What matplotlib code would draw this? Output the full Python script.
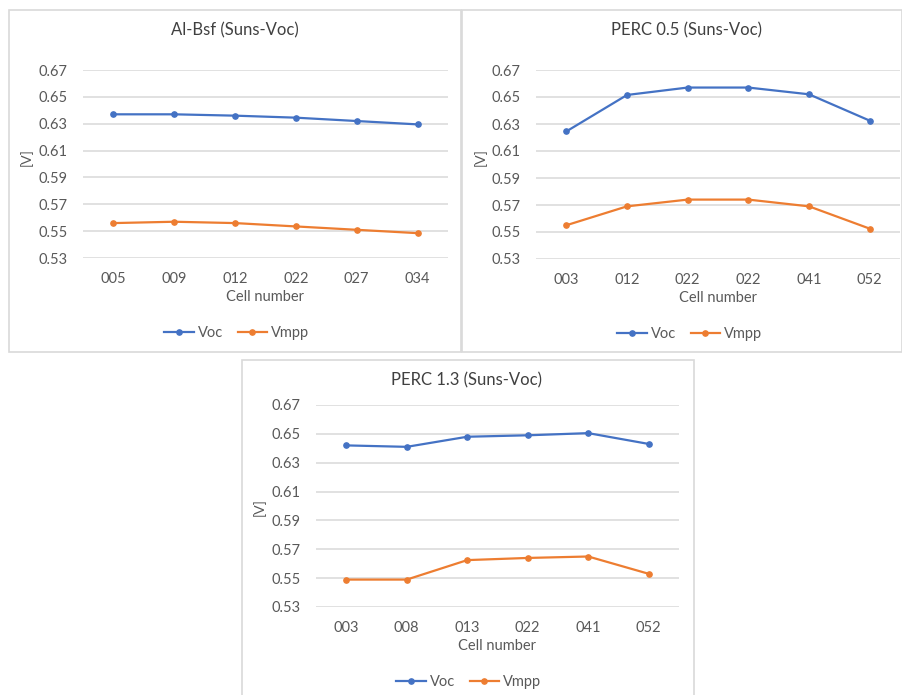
import numpy as np
import matplotlib
matplotlib.use("Agg")
import matplotlib.pyplot as plt
from matplotlib.patches import Rectangle
from matplotlib.lines import Line2D

plt.rcParams['font.family'] = ['Lato', 'DejaVu Sans']

# data
albsf_cells = ['005', '009', '012', '022', '027', '034']
albsf_voc = [0.637, 0.637, 0.636, 0.6345, 0.632, 0.6295]
albsf_vmpp = [0.556, 0.557, 0.556, 0.5535, 0.551, 0.5485]

perc05_cells = ['003', '012', '022', '022', '041', '052']
perc05_voc = [0.6245, 0.6515, 0.657, 0.657, 0.652, 0.6325]
perc05_vmpp = [0.555, 0.569, 0.574, 0.574, 0.569, 0.5525]

perc13_cells = ['003', '008', '013', '022', '041', '052']
perc13_voc = [0.642, 0.641, 0.648, 0.649, 0.6505, 0.643]
perc13_vmpp = [0.549, 0.549, 0.5625, 0.564, 0.565, 0.553]

y_ticks = [0.53, 0.55, 0.57, 0.59, 0.61, 0.63, 0.65, 0.67]

BLUE = '#4472C4'
ORANGE = '#ED7D31'
GRID = '#D9D9D9'
TXT = '#595959'

W, H = 903, 695
fig = plt.figure(figsize=(W / 100, H / 100), dpi=100)


def fx(px):
    return px / W


def fy(py):
    return 1 - py / H


def frame(x0, y0, x1, y1):
    fig.add_artist(Rectangle((fx(x0), fy(y1)), fx(x1 - x0), (y1 - y0) / H,
                             transform=fig.transFigure, fill=False,
                             edgecolor=GRID, linewidth=1.2))


def panel(box, plot, title, title_xy, ylab_xy, leg_xy, cells, voc, vmpp):
    x0, y0, x1, y1 = box
    frame(x0, y0, x1, y1)
    l, r, t, b = plot
    ax = fig.add_axes([fx(l), fy(b), fx(r - l), (b - t) / H])
    x = np.arange(len(cells))
    ax.plot(x, voc, color=BLUE, lw=1.6, marker='o', ms=3.8, label='Voc')
    ax.plot(x, vmpp, color=ORANGE, lw=1.6, marker='o', ms=3.8, label='Vmpp')
    ax.set_xlim(-0.5, len(cells) - 0.5)
    ax.set_ylim(0.53, 0.67)
    ax.set_yticks(y_ticks)
    ax.set_yticklabels([f'{v:.2f}' for v in y_ticks])
    ax.set_xticks(x)
    ax.set_xticklabels(cells)
    ax.grid(axis='y', color=GRID, lw=1.1)
    ax.set_axisbelow(True)
    for s in ax.spines.values():
        s.set_visible(False)
    ax.tick_params(length=0, colors=TXT, labelsize=10.5)
    ax.tick_params(axis='y', pad=11)
    ax.tick_params(axis='x', pad=10)
    ax.set_xlabel('Cell number', color=TXT, fontsize=10.5, labelpad=3)
    fig.text(fx(title_xy[0]), fy(title_xy[1]), title, ha='center', va='center',
             fontsize=12, color='#404040')
    fig.text(fx(ylab_xy[0]), fy(ylab_xy[1]), '[V]', ha='center', va='center',
             rotation=90, fontsize=10, color=TXT)
    handles = [Line2D([], [], color=BLUE, lw=1.6, marker='o', ms=3.8),
               Line2D([], [], color=ORANGE, lw=1.6, marker='o', ms=3.8)]
    fig.legend(handles, ['Voc', 'Vmpp'], loc='center',
               bbox_to_anchor=(fx(leg_xy[0]), fy(leg_xy[1])), ncol=2,
               frameon=False, fontsize=10.5, labelcolor=TXT, handlelength=2.0,
               handletextpad=0.3, columnspacing=1.0)
    return ax


panel((9, 10, 461, 352), (83, 448, 70, 258), 'Al-Bsf (Suns-Voc)',
      (235, 30), (26, 157), (237, 333), albsf_cells, albsf_voc, albsf_vmpp)
panel((462, 10, 902, 352), (536, 900, 70, 259), 'PERC 0.5 (Suns-Voc)',
      (687, 30), (480, 157), (690, 334), perc05_cells, perc05_voc, perc05_vmpp)
panel((242, 360, 694, 700), (316, 679, 405, 607), 'PERC 1.3 (Suns-Voc)',
      (467, 380), (259, 507), (469, 682), perc13_cells, perc13_voc, perc13_vmpp)

fig.savefig('out.png', dpi=100, facecolor='white')
